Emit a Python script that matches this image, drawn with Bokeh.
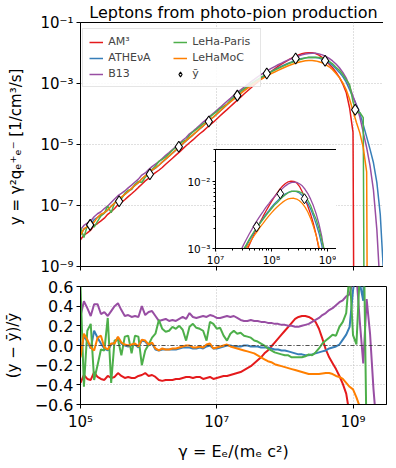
import numpy as np
from bokeh.plotting import figure
from bokeh.layouts import column
from bokeh.models import (FixedTicker, CustomJSTickFormatter, Legend, LegendItem,
                          Span, Range1d)
from bokeh.embed import file_html
from bokeh.resources import INLINE

# ---------------- data ----------------
LOG_GAMMA = [
    5.00, 5.05, 5.10, 5.15, 5.20, 5.25, 5.30, 5.35, 5.40, 5.45,
    5.50, 5.55, 5.60, 5.65, 5.70, 5.75, 5.80, 5.85, 5.90, 5.95,
    6.00, 6.05, 6.10, 6.15, 6.20, 6.25, 6.30, 6.35, 6.40, 6.45,
    6.50, 6.55, 6.60, 6.65, 6.70, 6.75, 6.80, 6.85, 6.90, 6.95,
    7.00, 7.05, 7.10, 7.15, 7.20, 7.25, 7.30, 7.35, 7.40, 7.45,
    7.50, 7.55, 7.60, 7.65, 7.70, 7.75, 7.80, 7.85, 7.90, 7.95,
    8.00, 8.05, 8.10, 8.15, 8.20, 8.25, 8.30, 8.35, 8.40, 8.45,
    8.50, 8.55, 8.60, 8.65, 8.70, 8.75, 8.80, 8.85, 8.90, 8.95,
    9.00, 9.05, 9.10, 9.15, 9.20, 9.25, 9.30, 9.35, 9.40, 9.45,
    9.50]

# log10 of the mean spectrum  y-bar
LOG_YBAR = [
    -7.914, -7.816, -7.717, -7.619, -7.521, -7.423, -7.325, -7.227, -7.129, -7.031,
    -6.933, -6.835, -6.737, -6.638, -6.540, -6.442, -6.344, -6.246, -6.148, -6.050,
    -5.952, -5.854, -5.756, -5.657, -5.559, -5.461, -5.363, -5.265, -5.167, -5.069,
    -4.971, -4.873, -4.775, -4.677, -4.578, -4.480, -4.382, -4.284, -4.186, -4.088,
    -3.990, -3.892, -3.794, -3.697, -3.600, -3.502, -3.405, -3.312, -3.221, -3.132,
    -3.046, -2.963, -2.883, -2.806, -2.732, -2.662, -2.596, -2.532, -2.471, -2.413,
    -2.358, -2.306, -2.258, -2.214, -2.174, -2.140, -2.114, -2.100, -2.098, -2.110,
    -2.136, -2.178, -2.236, -2.310, -2.400, -2.510, -2.640, -2.800, -3.000, -3.280,
    -3.643, -3.955, -4.193, -4.513, -5.268, -5.749, -6.247, -6.937, -7.998, -10.000,
    -12.699]

# relative deviations (y - ybar) / ybar
RES_AM3 = [
    -0.38, -0.30, -0.34, -0.35, -0.27, -0.32, -0.34, -0.35, -0.31, -0.33,
    -0.32, -0.28, -0.31, -0.33, -0.32, -0.33, -0.33, -0.31, -0.30, -0.28,
    -0.31, -0.30, -0.32, -0.35, -0.36, -0.35, -0.35, -0.35, -0.34, -0.34,
    -0.33, -0.32, -0.32, -0.33, -0.32, -0.32, -0.34, -0.33, -0.32, -0.34,
    -0.33, -0.32, -0.31, -0.31, -0.30, -0.29, -0.28, -0.27, -0.25, -0.23,
    -0.21, -0.18, -0.15, -0.12, -0.08, -0.05, -0.01, 0.03, 0.07, 0.11,
    0.15, 0.19, 0.23, 0.27, 0.29, 0.30, 0.30, 0.29, 0.27, 0.24,
    0.17, 0.07, -0.04, -0.12, -0.18, -0.24, -0.31, -0.39, -0.49, -0.70,
    -0.89, -1.0, -1.0, -1.0, -1.0, -1.0, -1.0, -1.0, -1.0, -1.0,
    -1.0]
RES_ATHENA = [
    -0.10, 0.10, 0.04, -0.03, 0.15, 0.08, 0.02, -0.03, -0.05, 0.01,
    0.03, 0.08, 0.02, 0.00, -0.01, 0.00, 0.01, -0.02, 0.05, 0.04,
    0.00, 0.02, -0.04, -0.05, -0.04, -0.04, -0.04, -0.04, -0.04, -0.03,
    -0.02, -0.02, -0.02, -0.03, -0.03, -0.02, -0.03, -0.01, 0.00, -0.03,
    -0.03, -0.02, -0.01, 0.00, 0.00, -0.01, -0.01, -0.01, 0.00, 0.00,
    -0.01, -0.01, -0.01, -0.02, -0.02, -0.02, -0.03, -0.04, -0.04, -0.05,
    -0.05, -0.06, -0.07, -0.08, -0.09, -0.09, -0.10, -0.10, -0.09, -0.08,
    -0.07, -0.06, -0.05, -0.03, -0.02, -0.01, 0.01, 0.06, 0.11, 0.19,
    0.56, 0.80, 0.635, 0.455, 2.295, 2.88, 3.441, 3.863, 3.984, 4.0,
    4.0]
RES_B13 = [
    0.30, 0.45, 0.38, 0.30, 0.42, 0.42, 0.32, 0.34, 0.30, 0.35,
    0.40, 0.43, 0.36, 0.30, 0.31, 0.29, 0.30, 0.29, 0.40, 0.31,
    0.34, 0.35, 0.30, 0.25, 0.26, 0.27, 0.25, 0.26, 0.25, 0.27,
    0.29, 0.27, 0.33, 0.29, 0.28, 0.29, 0.30, 0.29, 0.31, 0.30,
    0.28, 0.28, 0.29, 0.30, 0.29, 0.30, 0.28, 0.26, 0.25, 0.25,
    0.26, 0.25, 0.25, 0.24, 0.24, 0.23, 0.23, 0.22, 0.22, 0.21,
    0.21, 0.20, 0.20, 0.19, 0.19, 0.20, 0.21, 0.22, 0.24, 0.26,
    0.28, 0.31, 0.33, 0.36, 0.38, 0.41, 0.44, 0.46, 0.50, 0.52,
    0.672, 0.717, 0.24, -0.183, 0.472, 0.119, -0.441, -0.863, -0.984, -1.0,
    -1.0]
RES_LEHAPARIS = [
    0.60, -0.42, 0.15, 0.22, -0.35, -0.20, -0.04, -0.05, 0.28, -0.38,
    0.05, 0.06, -0.10, 0.09, 0.10, -0.08, 0.10, 0.09, -0.20, -0.05,
    0.01, 0.08, 0.12, 0.26, 0.17, 0.14, 0.15, 0.19, 0.17, 0.20,
    0.16, 0.05, 0.19, 0.22, 0.18, 0.17, 0.15, 0.05, 0.24, 0.22,
    0.17, 0.18, 0.10, 0.05, 0.12, 0.15, 0.12, 0.13, 0.10, 0.09,
    0.08, 0.05, 0.04, 0.02, 0.00, -0.03, -0.05, -0.07, -0.08, -0.09,
    -0.10, -0.10, -0.12, -0.12, -0.12, -0.12, -0.11, -0.09, -0.10, -0.07,
    -0.03, 0.02, 0.05, 0.08, 0.11, 0.10, 0.19, 0.24, 0.33, 0.75,
    0.105, 0.011, 0.751, 1.471, -1.0, -1.0, -1.0, -1.0, -1.0, -1.0,
    -1.0]
RES_LEHAMOC = [
    -0.12, 0.12, 0.06, -0.02, -0.05, 0.08, 0.10, -0.02, -0.04, 0.02,
    0.02, 0.09, 0.03, 0.01, 0.00, 0.01, 0.02, -0.01, 0.06, 0.05,
    0.01, 0.03, -0.03, -0.05, -0.03, -0.04, -0.04, -0.03, -0.03, -0.02,
    -0.01, 0.00, 0.00, -0.02, -0.02, -0.01, -0.02, 0.01, 0.02, -0.03,
    -0.02, -0.01, 0.00, 0.01, -0.01, -0.02, -0.03, -0.04, -0.05, -0.06,
    -0.07, -0.08, -0.10, -0.12, -0.14, -0.16, -0.17, -0.19, -0.20, -0.21,
    -0.22, -0.23, -0.24, -0.25, -0.26, -0.27, -0.28, -0.29, -0.29, -0.29,
    -0.29, -0.285, -0.28, -0.28, -0.29, -0.31, -0.32, -0.34, -0.38, -0.42,
    -0.446, -0.527, -0.625, -0.742, -0.766, -1.0, -1.0, -1.0, -1.0, -1.0,
    -1.0]

# marked points of the mean spectrum
DIAMOND_LOG_GAMMA = [5.142, 5.567, 6.018, 6.443, 6.883, 7.302, 7.734, 8.158, 8.590, 9.032]
DIAMOND_LOG_YBAR = [-7.635, -6.861, -5.977, -5.074, -4.248, -3.397, -2.673, -2.179, -2.254, -3.861]

MODEL_NAMES = ["AM\u00b3", "ATHE\u03bdA", "B13", "LeHa-Paris", "LeHaMoC"]
MODEL_RES = [RES_AM3, RES_ATHENA, RES_B13, RES_LEHAPARIS, RES_LEHAMOC]
COLORS = ["#e41a1c", "#377eb8", "#984ea3", "#4daf4a", "#ff7f00"]

FONT = "DejaVu Sans"

gamma = 10.0 ** np.array(LOG_GAMMA)
ybar = 10.0 ** np.array(LOG_YBAR)
res = [np.array(r) for r in MODEL_RES]
ymod = [np.maximum(ybar * (1.0 + r), 1e-30) for r in res]
dg = 10.0 ** np.array(DIAMOND_LOG_GAMMA)
dy = 10.0 ** np.array(DIAMOND_LOG_YBAR)


def pow10_formatter():
    return CustomJSTickFormatter(code="""
const m = {"-":"\\u207b","0":"\\u2070","1":"\\u00b9","2":"\\u00b2","3":"\\u00b3",
           "4":"\\u2074","5":"\\u2075","6":"\\u2076","7":"\\u2077","8":"\\u2078","9":"\\u2079"};
const e = Math.round(Math.log10(tick));
return "10" + String(e).split("").map(c => m[c]).join("");
""")


def style_axis(ax, size, tick_out=4):
    ax.axis_line_color = "black"
    ax.axis_line_width = 1
    ax.major_tick_line_color = "black"
    ax.major_tick_out = tick_out
    ax.major_tick_in = 0
    ax.minor_tick_line_color = None
    ax.major_label_text_font = FONT
    ax.major_label_text_font_size = size
    ax.major_label_text_color = "black"
    ax.major_label_standoff = 3
    ax.axis_label_text_font = FONT
    ax.axis_label_text_font_style = "normal"
    ax.axis_label_text_color = "black"


def style_grid(p):
    for g in (p.xgrid, p.ygrid):
        g.grid_line_color = "#b0b0b0"
        g.grid_line_dash = "1 2"
        g.grid_line_width = 0.8


# ---------------- top panel ----------------
top = figure(frame_width=306, frame_height=244,
             x_axis_type="log", y_axis_type="log",
             x_range=Range1d(1e5, 3.1e9), y_range=Range1d(1e-9, 1e-1),
             min_border_left=73, min_border_right=1, min_border_top=0,
             min_border_bottom=10,
             output_backend="svg", toolbar_location=None,
             title="Leptons from photo-pion production")
top.title.text_font = FONT
top.title.text_font_size = "16px"
top.title.text_font_style = "normal"
top.title.text_color = "black"
top.title.align = "center"
top.title.standoff = 1
top.outline_line_color = "black"
top.outline_line_width = 1
top.background_fill_color = "white"
top.border_fill_color = "white"

style_axis(top.xaxis[0], "0px")
top.xaxis.ticker = FixedTicker(ticks=[1e5, 1e7, 1e9], minor_ticks=[])
top.xaxis.formatter = CustomJSTickFormatter(code='return "";')
top.xaxis.major_label_standoff = 0
style_axis(top.yaxis[0], "15px")
top.yaxis.ticker = FixedTicker(ticks=[1e-9, 1e-7, 1e-5, 1e-3, 1e-1], minor_ticks=[])
top.yaxis.formatter = pow10_formatter()
top.yaxis.axis_label = "y = \u03b3\u00b2q\u2091\u207a\u2091\u207b  [1/cm\u00b3/s]"
top.yaxis.axis_label_text_font_size = "15px"
top.yaxis.axis_label_standoff = 12
style_grid(top)

items = []
for name, y, c in zip(MODEL_NAMES, ymod, COLORS):
    r = top.line(gamma, y, line_color=c, line_width=1.5)
    items.append(LegendItem(label=name, renderers=[r]))
rd = top.scatter(dg, dy, marker="diamond", size=11, fill_color="white",
                 line_color="black", line_width=1.1)
items.append(LegendItem(label="\u0233", renderers=[rd]))

legend = Legend(items=items, location="top_left", ncols=2,
                label_text_font=FONT, label_text_font_size="11px",
                glyph_width=14, glyph_height=12, label_height=12,
                label_width=62, label_standoff=5, spacing=3, padding=6,
                margin=6,
                border_line_color="#cccccc", border_line_width=1,
                background_fill_color="white", background_fill_alpha=0.85)
top.add_layout(legend)

# ---------------- bottom panel ----------------
bot = figure(frame_width=306, frame_height=118,
             x_axis_type="log",
             x_range=top.x_range, y_range=Range1d(-0.6, 0.6),
             min_border_left=73, min_border_right=1, min_border_top=10,
             min_border_bottom=40,
             output_backend="svg", toolbar_location=None)
bot.outline_line_color = "black"
bot.outline_line_width = 1
bot.background_fill_color = "white"
bot.border_fill_color = "white"
style_axis(bot.xaxis[0], "15px")
bot.xaxis.ticker = FixedTicker(ticks=[1e5, 1e7, 1e9], minor_ticks=[])
bot.xaxis.formatter = pow10_formatter()
bot.xaxis.major_label_standoff = 4
bot.xaxis.axis_label = "\u03b3 = E\u2091/(m\u2091 c\u00b2)"
bot.xaxis.axis_label_text_font_size = "16px"
bot.xaxis.axis_label_standoff = 8
style_axis(bot.yaxis[0], "16px")
bot.yaxis.ticker = FixedTicker(ticks=[-0.6, -0.4, -0.2, 0.0, 0.2, 0.4, 0.6], minor_ticks=[])
bot.yaxis.formatter = CustomJSTickFormatter(
    code='return (tick < -1e-9 ? "\\u2212" : "") + Math.abs(tick).toFixed(1);')
bot.yaxis.axis_label = "(y \u2212 \u0233)/\u0233"
bot.yaxis.axis_label_text_font_size = "15px"
bot.yaxis.axis_label_standoff = 10
style_grid(bot)
bot.add_layout(Span(location=0, dimension="width", line_color="#404040",
                    line_width=0.9, line_dash="4 2 1 2"))
for r, c in zip(res, COLORS):
    bot.line(gamma, r, line_color=c, line_width=2)

# ---------------- inset ----------------
inset = figure(frame_width=127, frame_height=99,
               x_axis_type="log", y_axis_type="log",
               x_range=Range1d(1e7, 1.86e9), y_range=Range1d(1e-3, 3.05e-2),
               min_border_left=73, min_border_right=1, min_border_top=4,
               min_border_bottom=20,
               output_backend="svg", toolbar_location=None)
inset.styles = {"position": "absolute", "left": "135px", "top": "145px"}
inset.border_fill_alpha = 0
inset.background_fill_color = "white"
inset.outline_line_color = "black"
inset.outline_line_width = 1
inset.xgrid.visible = False
inset.ygrid.visible = False
for ax in (inset.xaxis[0], inset.yaxis[0]):
    style_axis(ax, "10.5px", tick_out=3)
    ax.minor_tick_line_color = "black"
    ax.minor_tick_out = 2
    ax.minor_tick_in = 0
    ax.major_label_standoff = 2
    ax.formatter = pow10_formatter()
inset.xaxis.ticker = FixedTicker(
    ticks=[1e7, 1e8, 1e9],
    minor_ticks=[2e7, 3e7, 4e7, 5e7, 6e7, 7e7, 8e7, 9e7,
                 2e8, 3e8, 4e8, 5e8, 6e8, 7e8, 8e8, 9e8])
inset.yaxis.ticker = FixedTicker(
    ticks=[1e-3, 1e-2],
    minor_ticks=[2e-3, 3e-3, 4e-3, 5e-3, 6e-3, 7e-3, 8e-3, 9e-3, 2e-2, 3e-2])
for y, c in zip(ymod, COLORS):
    inset.line(gamma, y, line_color=c, line_width=1.3)
inset.scatter(dg, dy, marker="diamond", size=10, fill_color="white",
              line_color="black", line_width=1.0)

layout = column(top, bot, inset, spacing=0)
open("out.html", "w").write(file_html(layout, INLINE))
